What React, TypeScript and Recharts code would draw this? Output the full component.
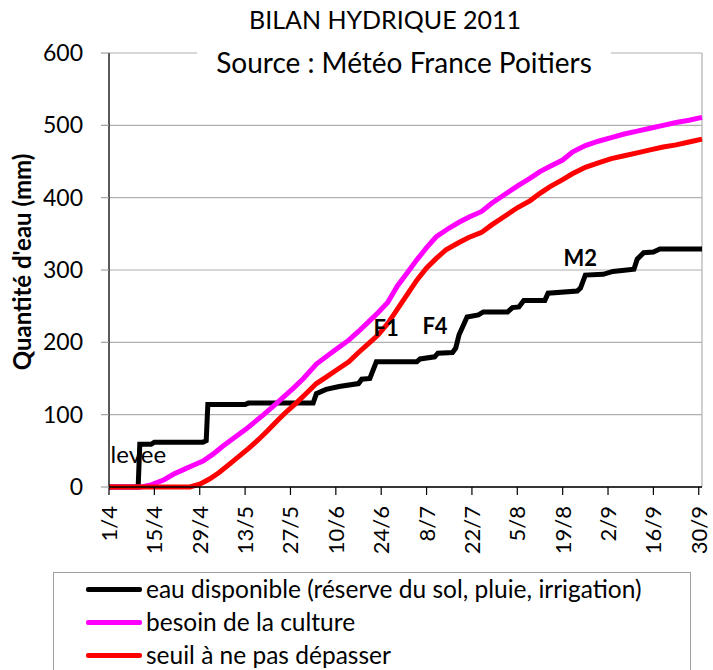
import React from "react"
import {
  LineChart,
  Line,
  XAxis,
  YAxis,
  CartesianGrid,
  ReferenceLine,
  ReferenceDot,
} from "recharts"

const FONT = "Lato, 'Liberation Sans', sans-serif"

// days since 1 April 2011
const tickDays = [0, 14, 28, 42, 56, 70, 84, 98, 112, 126, 140, 154, 168, 182]
const tickLabels = ["1/4", "15/4", "29/4", "13/5", "27/5", "10/6", "24/6", "8/7", "22/7", "5/8", "19/8", "2/9", "16/9", "30/9"]
const yTicks = [0, 100, 200, 300, 400, 500, 600]

// eau disponible (step-like cumulative)
const dispoDays = [0, 9, 9.5, 13, 14, 29, 30, 30.5, 42, 43, 63, 64, 67, 71, 77, 78, 80.5, 82.5, 95, 96, 100.5, 101.5, 106, 107, 108, 110.5, 114, 115.5, 123, 124.5, 126.5, 128, 134.5, 135.5, 144.5, 145.5, 147, 152.5, 155.5, 162, 163, 165, 168, 170, 183]
const dispoMm = [0, 0, 59, 59, 62, 62, 64, 114, 114, 116, 116, 129, 135, 139, 143, 149, 150, 173, 173, 177, 180, 185, 186, 192, 210, 235, 238, 242, 242, 248, 249, 258, 258, 268, 271, 275, 293, 294, 298, 301, 315, 324, 325, 329, 329]

// besoin de la culture
const besoinDays = [0, 10, 13, 17, 20, 23, 26, 29, 32, 35, 38, 42, 45, 48, 51, 54, 57, 60, 64, 67, 70, 74, 77, 80, 83, 86, 89, 92, 95, 98, 101, 105, 108, 111, 115, 118, 122, 126, 130, 133, 136, 140, 143, 147, 151, 155, 159, 163, 167, 171, 175, 179, 183]
const besoinMm = [0, 0, 3, 10, 18, 24, 30, 36, 45, 56, 66, 79, 90, 101, 113, 125, 137, 150, 170, 180, 190, 203, 215, 228, 241, 255, 278, 296, 314, 331, 346, 358, 366, 373, 381, 392, 404, 416, 427, 436, 443, 452, 463, 472, 478, 483, 488, 492, 496, 500, 504, 507, 511]

// seuil à ne pas dépasser
const seuilDays = [0, 25, 28, 31, 34, 37, 40, 43, 46, 49, 52, 55, 58, 61, 64, 67, 70, 74, 77, 80, 83, 86, 89, 92, 95, 98, 101, 104, 108, 111, 115, 118, 122, 126, 130, 133, 136, 140, 143, 147, 151, 155, 159, 163, 167, 171, 175, 179, 183]
const seuilMm = [0, 0, 4, 11, 20, 31, 42, 53, 65, 78, 92, 105, 117, 130, 143, 152, 161, 173, 186, 198, 210, 226, 246, 266, 286, 303, 316, 328, 338, 345, 352, 362, 374, 386, 396, 406, 415, 425, 433, 442, 448, 454, 458, 462, 466, 470, 473, 477, 481]

const series = [
  { name: "eau disponible (réserve du sol, pluie, irrigation)", color: "#000000", days: dispoDays, mm: dispoMm },
  { name: "besoin de la culture", color: "#ff00ff", days: besoinDays, mm: besoinMm },
  { name: "seuil à ne pas dépasser", color: "#ff0000", days: seuilDays, mm: seuilMm },
]

const notes = [
  { text: "levee", day: 0.5, mm: 45, bold: false, anchor: "start", size: 24 },
  { text: "F1", day: 85.5, mm: 220, bold: true, anchor: "middle", size: 22 },
  { text: "F4", day: 100.6, mm: 223, bold: true, anchor: "middle", size: 22 },
  { text: "M2", day: 145.4, mm: 316, bold: true, anchor: "middle", size: 22 },
]

const DateTick = (props: any) => {
  const { x, y, payload } = props
  const label = tickLabels[tickDays.indexOf(payload.value)]
  return (
    <text
      x={x}
      y={y}
      dy={8}
      transform={`rotate(-90, ${x}, ${y})`}
      textAnchor="end"
      fontSize={22}
      fontFamily={FONT}
      fill="#000"
    >
      {label}
    </text>
  )
}

const noteLabel = (text: string, bold: boolean, anchor: string, size: number) => (props: any) => {
  const { viewBox } = props
  const cx = viewBox.x + (viewBox.width || 0) / 2
  const cy = viewBox.y + (viewBox.height || 0) / 2
  return (
    <text
      x={cx}
      y={cy}
      dy={size * 0.36}
      textAnchor={anchor}
      fontSize={size}
      fontWeight={bold ? 700 : 400}
      fontFamily={FONT}
      fill="#000"
    >
      {text}
    </text>
  )
}

const yLabel = (props: any) => {
  const { viewBox } = props
  const x = viewBox.x + 31
  const y = viewBox.y + viewBox.height / 2 - 8
  return (
    <text
      x={x}
      y={y}
      transform={`rotate(-90, ${x}, ${y})`}
      textAnchor="middle"
      fontSize={24}
      fontWeight={700}
      fontFamily={FONT}
      fill="#000"
    >
      Quantité d'eau (mm)
    </text>
  )
}

export default function App() {
  return (
    <div
      style={{
        position: "absolute",
        left: 0,
        top: 0,
        width: 713,
        height: 670,
        overflow: "hidden",
        background: "#fff",
        fontFamily: FONT,
      }}
    >
      <LineChart width={713} height={670} margin={{ top: 53, right: 11, bottom: 0, left: 0 }}>
        <CartesianGrid vertical={false} stroke="#b0b0b0" strokeWidth={1.2} />
        <XAxis
          dataKey="day"
          type="number"
          domain={[0, 183]}
          ticks={tickDays}
          interval={0}
          height={183}
          tick={<DateTick />}
          tickSize={8}
          tickMargin={11}
          axisLine={{ stroke: "#000", strokeWidth: 1.3 }}
          tickLine={{ stroke: "#000", strokeWidth: 1.2 }}
          allowDuplicatedCategory={false}
        />
        <YAxis
          type="number"
          domain={[0, 600]}
          ticks={yTicks}
          interval={0}
          width={109}
          tickSize={8}
          tickMargin={18}
          tick={{ fontSize: 23, fill: "#000", fontFamily: FONT }}
          axisLine={{ stroke: "#000", strokeWidth: 1.3 }}
          tickLine={{ stroke: "#a0a0a0", strokeWidth: 1.2 }}
          label={yLabel}
        />
        <ReferenceLine x={183} stroke="#b0b0b0" strokeWidth={1.2} />
        {series.map((s) => (
          <Line
            key={s.name}
            name={s.name}
            data={s.days.map((d, i) => ({ day: d, v: s.mm[i] }))}
            dataKey="v"
            type="linear"
            stroke={s.color}
            strokeWidth={5}
            dot={false}
            activeDot={false}
            isAnimationActive={false}
          />
        ))}
        {notes.map((n) => (
          <ReferenceDot
            key={n.text}
            x={n.day}
            y={n.mm}
            r={0}
            fill="none"
            stroke="none"
            label={noteLabel(n.text, n.bold, n.anchor, n.size)}
          />
        ))}
      </LineChart>

      <div
        style={{
          position: "absolute",
          left: 0,
          width: 770,
          top: 4,
          textAlign: "center",
          fontSize: 25,
          lineHeight: "30px",
          color: "#000",
        }}
      >
        BILAN HYDRIQUE 2011
      </div>
      <div
        style={{
          position: "absolute",
          left: 197,
          width: 414,
          top: 44,
          height: 36,
          background: "#fff",
          textAlign: "center",
          fontSize: 28,
          lineHeight: "36px",
          color: "#000",
        }}
      >
        Source : Météo France Poitiers
      </div>

      <div
        style={{
          position: "absolute",
          left: 53,
          top: 572,
          width: 636,
          height: 120,
          border: "1px solid #a0a0a0",
          background: "#fff",
        }}
      >
        {series.map((s, i) => (
          <div
            key={s.name}
            style={{
              position: "absolute",
              left: 32,
              top: 5 + i * 33,
              height: 22,
              display: "flex",
              alignItems: "center",
              whiteSpace: "nowrap",
            }}
          >
            <span
              style={{
                display: "inline-block",
                width: 56,
                height: 5,
                borderRadius: 2,
                background: s.color,
                marginRight: 4,
              }}
            />
            <span style={{ fontSize: 24.5, lineHeight: "22px", color: "#000" }}>{s.name}</span>
          </div>
        ))}
      </div>
    </div>
  )
}
